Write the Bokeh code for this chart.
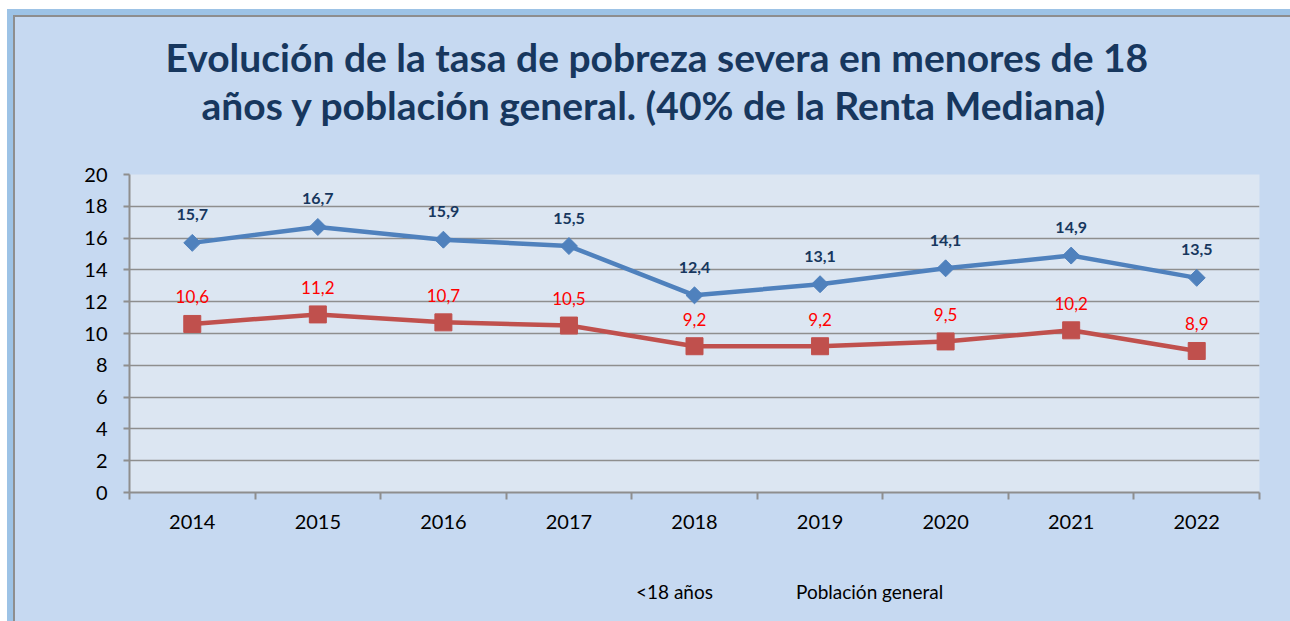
import numpy as np
from bokeh.plotting import figure
from bokeh.layouts import column
from bokeh.models import (ColumnDataSource, LabelSet, Legend, LegendItem, FixedTicker,
                          Range1d, Title)
from bokeh.core.properties import value
from bokeh.embed import file_html
from bokeh.resources import INLINE

# ---- data ----
years = ["2014", "2015", "2016", "2017", "2018", "2019", "2020", "2021", "2022"]
menores = [15.7, 16.7, 15.9, 15.5, 12.4, 13.1, 14.1, 14.9, 13.5]
general = [10.6, 11.2, 10.7, 10.5, 9.2, 9.2, 9.5, 10.2, 8.9]
y_ticks = [0, 2, 4, 6, 8, 10, 12, 14, 16, 18, 20]
series_names = ["<18 años", "Población general"]
title_lines = ["Evolución de la tasa de pobreza severa en menores de 18",
               "años y población general. (40% de la Renta Mediana)"]

def fmt(v):
    return ("%.1f" % v).replace(".", ",")

xs = [i + 0.5 for i in range(len(years))]
src = ColumnDataSource(dict(
    x=xs, m=menores, g=general,
    ml=[fmt(v) for v in menores], gl=[fmt(v) for v in general],
))

FONT = "Lato"
CHART_BG = "#c6d9f1"
PLOT_BG = "#dce6f2"
BLUE = "#4f81bd"
RED = "#c0504d"
GRID = "#8e8e8e"

p = figure(frame_width=1130, frame_height=318, output_backend="svg", toolbar_location=None,
           x_range=Range1d(0, len(years)), y_range=Range1d(0, 20),
           min_border_left=114, min_border_right=31, min_border_top=157,
           min_border_bottom=53)

p.background_fill_color = PLOT_BG
p.border_fill_color = CHART_BG
p.outline_line_color = None

# title: spacer nearest the frame, then the two lines
spacer = Title(text=" ", text_font=FONT, text_font_size="37px", standoff=0)
t2 = Title(text=title_lines[1], align="left", offset=72, text_font=FONT,
           text_font_size="39px", text_font_style="bold", text_color="#17375e",
           standoff=0, text_line_height=0.94)
t1 = Title(text=title_lines[0], align="left", offset=36, text_font=FONT,
           text_font_size="39px", text_font_style="bold", text_color="#17375e",
           standoff=0, text_line_height=0.94)
p.add_layout(spacer, "above")
p.add_layout(t2, "above")
p.add_layout(t1, "above")

# axes
p.yaxis.ticker = FixedTicker(ticks=y_ticks)
p.yaxis.axis_line_color = GRID
p.yaxis.axis_line_width = 2
p.yaxis.major_tick_line_color = GRID
p.yaxis.major_tick_line_width = 2
p.yaxis.major_tick_out = 6
p.yaxis.major_tick_in = 0
p.yaxis.minor_tick_line_color = None
p.yaxis.major_label_standoff = 16
p.yaxis.major_label_text_font = FONT
p.yaxis.major_label_text_font_size = "20px"
p.yaxis.major_label_text_color = "#000000"

p.xaxis.ticker = FixedTicker(ticks=xs, minor_ticks=list(range(len(years) + 1)))
p.xaxis.major_label_overrides = {x: y for x, y in zip(xs, years)}
p.xaxis.axis_line_color = GRID
p.xaxis.axis_line_width = 2
p.xaxis.major_tick_line_color = None
p.xaxis.major_tick_out = 0
p.xaxis.major_tick_in = 0
p.xaxis.minor_tick_line_color = GRID
p.xaxis.minor_tick_line_width = 2
p.xaxis.minor_tick_out = 7
p.xaxis.minor_tick_in = 0
p.xaxis.major_label_standoff = 15
p.xaxis.major_label_text_font = FONT
p.xaxis.major_label_text_font_size = "20px"
p.xaxis.major_label_text_color = "#000000"

p.xgrid.grid_line_color = None
p.ygrid.ticker = FixedTicker(ticks=y_ticks)
p.ygrid.grid_line_color = GRID
p.ygrid.grid_line_width = 1.5

p.line("x", "m", source=src, line_color=BLUE, line_width=4.5)
p.scatter("x", "m", source=src, marker="square", angle=np.pi / 4, size=12,
          fill_color=BLUE, line_color=BLUE)
p.line("x", "g", source=src, line_color=RED, line_width=4.5)
p.scatter("x", "g", source=src, marker="square", size=17,
          fill_color=RED, line_color=RED)

p.add_layout(LabelSet(x="x", y="m", text="ml", source=src, y_offset=28,
                      text_align="center", text_baseline="middle",
                      text_font=value(FONT), text_font_size=value("16px"),
                      text_font_style="bold", text_color="#17375e"))
p.add_layout(LabelSet(x="x", y="g", text="gl", source=src, y_offset=27,
                      text_align="center", text_baseline="middle",
                      text_font=value(FONT), text_font_size=value("17px"),
                      text_color="#ff0000"))

# ---- legend strip (separate figure below the chart, same background) ----
lg = figure(width=1275, height=76, output_backend="svg", toolbar_location=None,
            x_range=Range1d(0, 1), y_range=Range1d(0, 1),
            x_axis_location=None, y_axis_location=None, min_border=0)
lg.min_border_left = lg.min_border_right = lg.min_border_top = lg.min_border_bottom = 0
lg.background_fill_color = CHART_BG
lg.border_fill_color = CHART_BG
lg.outline_line_color = None
lg.grid.grid_line_color = None

empty = ColumnDataSource(dict(x=[], y=[]))
dl1 = lg.line("x", "y", source=empty, line_color=BLUE, line_width=4.5)
ds1 = lg.scatter("x", "y", source=empty, marker="square", angle=np.pi / 4, size=12,
                 fill_color=BLUE, line_color=BLUE)
dl2 = lg.line("x", "y", source=empty, line_color=RED, line_width=4.5)
ds2 = lg.scatter("x", "y", source=empty, marker="square", size=14,
                 fill_color=RED, line_color=RED)

legend = Legend(items=[LegendItem(label=series_names[0], renderers=[dl1, ds1]),
                       LegendItem(label=series_names[1], renderers=[dl2, ds2])],
                orientation="horizontal", location=(456, 18),
                background_fill_alpha=0, border_line_color=None,
                label_text_font=FONT, label_text_font_size="19px",
                label_text_color="#000000", glyph_width=48, glyph_height=22,
                label_standoff=3, spacing=32, margin=0, padding=4)
lg.add_layout(legend, "center")

layout = column(p, lg, spacing=0)
layout.styles = {"margin-left": "13px", "margin-top": "15px",
                 "border-left": "2px solid #8e8e8e", "border-top": "2px solid #8e8e8e",
                 "outline": "6px solid #9dc3e6", "background-color": CHART_BG}

open("out.html", "w").write(file_html(layout, INLINE))
